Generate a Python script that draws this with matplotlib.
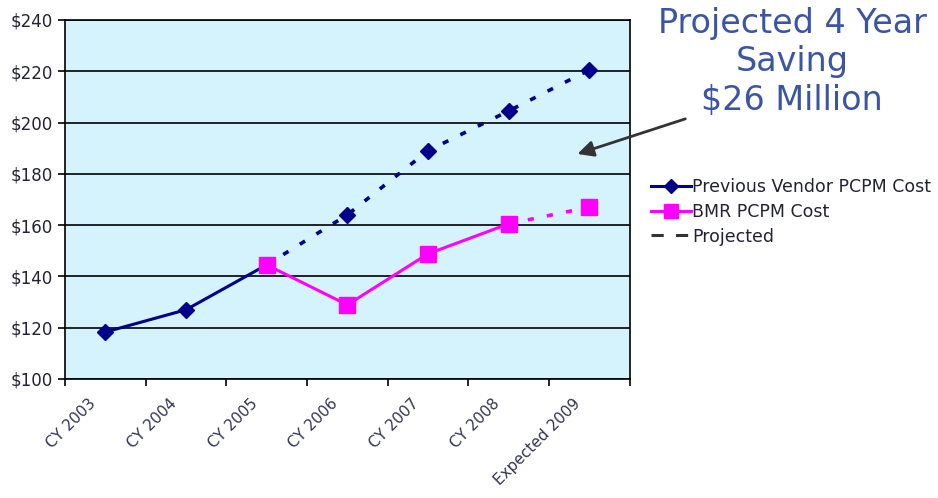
import numpy as np
import matplotlib
matplotlib.use("Agg")
import matplotlib.pyplot as plt
import matplotlib.transforms as mtrans
from matplotlib.lines import Line2D

# data
years = ["CY 2003", "CY 2004", "CY 2005", "CY 2006", "CY 2007", "CY 2008", "Expected 2009"]
vendor = [118.3, 127.0, 144.5, 164.0, 189.0, 204.5, 220.5]
bmr = [None, None, 144.5, 128.9, 148.8, 160.5, 167.0]
yticks = [100, 120, 140, 160, 180, 200, 220, 240]

navy = "#00008b"
pink = "#ff00ff"
dash = (0, (1.7, 3.7))

fig = plt.figure(figsize=(9.38, 4.98), dpi=100)
ax = fig.add_axes([0.0693, 0.239, 0.602, 0.721])
ax.set_facecolor("#d5f3fd")

x = np.arange(len(years))
# previous vendor: actual 2003-2005, projected after
ax.plot(x[:3], vendor[:3], color=navy, lw=2.2, zorder=3)
ax.plot(x[2:], vendor[2:], color=navy, lw=2.6, linestyle=dash, zorder=3)
ax.plot(x, vendor, linestyle="none", marker="D", ms=8.5, color=navy, zorder=4)

xb = x[2:]
yb = bmr[2:]
ax.plot(xb[:4], yb[:4], color=pink, lw=2.2, zorder=3)
ax.plot(xb[3:], yb[3:], color=pink, lw=2.6, linestyle=dash, zorder=3)
ax.plot(xb, yb, linestyle="none", marker="s", ms=11, color=pink, zorder=4)

ax.set_xlim(-0.5, len(years) - 0.5)
ax.set_ylim(100, 240)
ax.set_yticks(yticks)
ax.set_yticklabels([f"${v}" for v in yticks], fontsize=12, color="#222233")
ax.grid(axis="y", color="black", lw=1.2)
ax.set_axisbelow(True)

ax.set_xticks(x)
ax.set_xticklabels(years, rotation=45, ha="right", rotation_mode="anchor", fontsize=11, color="#333355")
ax.tick_params(axis="x", length=0, pad=12)
shift = mtrans.ScaledTranslation(-17 / 100, 0, fig.dpi_scale_trans)
for lab in ax.get_xticklabels():
    lab.set_transform(lab.get_transform() + shift)
ax.set_xticks(np.arange(-0.5, len(years)), minor=True)
ax.tick_params(axis="x", which="minor", length=5, width=1.2, direction="out")
ax.tick_params(axis="y", length=5, width=1.2, pad=4)
for s in ax.spines.values():
    s.set_linewidth(1.2)

# callout
fig.text(792 / 938, 1 - 62 / 498, "Projected 4 Year\nSaving\n$26 Million", ha="center", va="center",
         fontsize=24, color="#3a55a5", linespacing=1.22)
ax.annotate("", xy=(5.82, 187.4), xycoords="data",
            xytext=(688 / 938, 1 - 118 / 498), textcoords="figure fraction",
            arrowprops=dict(arrowstyle="-|>", color="#333333", lw=2, mutation_scale=24),
            annotation_clip=False)

handles = [
    Line2D([], [], color=navy, lw=2.2, marker="D", ms=7),
    Line2D([], [], color=pink, lw=2.2, marker="s", ms=10),
    Line2D([], [], color="#333333", lw=2.2, linestyle=(0, (4, 4))),
]
fig.legend(handles, ["Previous Vendor PCPM Cost", "BMR PCPM Cost", "Projected"],
           loc="upper left", bbox_to_anchor=(642 / 938, 1 - 169 / 498), frameon=False,
           fontsize=12.5, handlelength=2.3, handletextpad=0.1, labelspacing=0.4, borderpad=0,
           labelcolor="#222233")

fig.savefig("out.png", dpi=100)
